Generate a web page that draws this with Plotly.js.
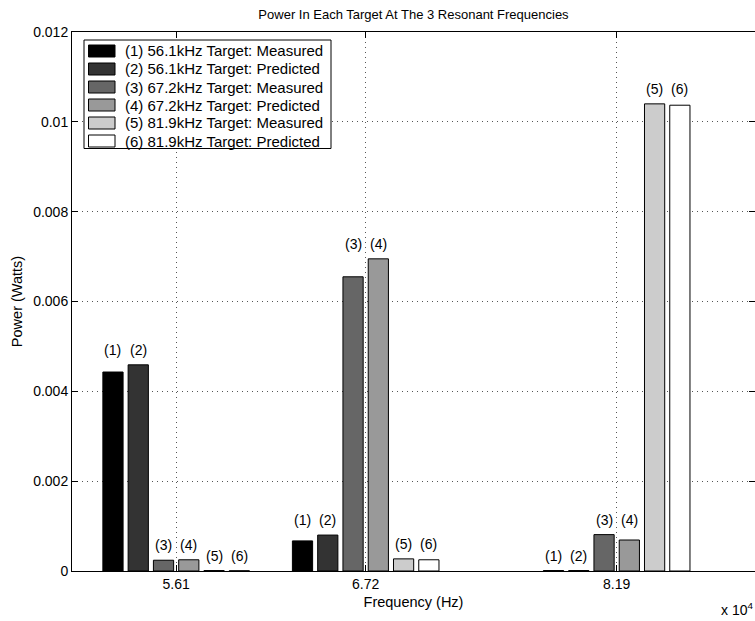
<!DOCTYPE html>
<html>
<head>
<meta charset="utf-8">
<script src="https://cdn.plot.ly/plotly-3.0.1.min.js"></script>
<style>html,body{margin:0;padding:0;background:#fff;}#chart{width:755px;height:621px;}</style>
</head>
<body>
<div id="chart"></div>
<script>
// Resonant frequencies (x 10^4 Hz)
const freqs = [5.61, 6.72, 8.19];
const freqLabels = ['5.61', '6.72', '8.19'];
const seriesNames = [
  '(1) 56.1kHz Target: Measured',
  '(2) 56.1kHz Target: Predicted',
  '(3) 67.2kHz Target: Measured',
  '(4) 67.2kHz Target: Predicted',
  '(5) 81.9kHz Target: Measured',
  '(6) 81.9kHz Target: Predicted'
];
const barLabels = ['(1)', '(2)', '(3)', '(4)', '(5)', '(6)'];
// Power (W) per target at each frequency
const s1 = [0.00443, 0.00067, 0.00001];
const s2 = [0.00459, 0.00080, 0.00001];
const s3 = [0.00024, 0.00655, 0.00081];
const s4 = [0.00025, 0.00695, 0.00069];
const s5 = [0.00001, 0.00027, 0.01040];
const s6 = [0.000005, 0.00025, 0.01037];
const series = [s1, s2, s3, s4, s5, s6];
const colors = ['#000000', '#333333', '#666666', '#999999', '#cccccc', '#ffffff'];

const FONT = "'Liberation Sans', Arial, Helvetica, sans-serif";

const traces = series.map((s, i) => ({
  type: 'bar',
  x: freqs,
  y: s,
  name: seriesNames[i],
  marker: {color: colors[i], line: {color: '#000', width: 1}},
  showlegend: false,
  hoverinfo: 'x+y+name'
}));

// group geometry follows the library's grouping: slot = minDiff*(1-bargap)/n
const bargap = 0.2, bargroupgap = 0.2;
let minDiff = Infinity;
for (let k = 1; k < freqs.length; k++) minDiff = Math.min(minDiff, freqs[k] - freqs[k-1]);
const slot = minDiff * (1 - bargap) / series.length;

const annotations = [];
for (let g = 0; g < freqs.length; g++) {
  for (let i = 0; i < series.length; i++) {
    const pair = Math.floor(i / 2) * 2;
    const ytop = Math.max(series[pair][g], series[pair + 1][g]);
    annotations.push({
      x: freqs[g] + (i - (series.length - 1) / 2) * slot,
      y: ytop, xref: 'x', yref: 'y',
      text: barLabels[i], showarrow: false,
      yanchor: 'bottom', yshift: 5,
      font: {family: FONT, size: 14, color: '#000'}
    });
  }
}
annotations.push({
  x: 1, y: 0, xref: 'paper', yref: 'paper',
  xanchor: 'right', yanchor: 'top', yshift: -27,
  text: 'x 10<sup>4</sup>', showarrow: false,
  font: {family: FONT, size: 14, color: '#000'}
});

// Legend box drawn as shapes + text (MATLAB-style legend)
const M = {l: 72, r: 0, t: 32, b: 50};
const W = 755, H = 621;
const pw = W - M.l - M.r, ph = H - M.t - M.b;
const px = v => (v - M.l) / pw;
const py = v => (H - M.b - v) / ph;
const shapes = [];
shapes.push({type: 'rect', xref: 'paper', yref: 'paper', layer: 'above',
  x0: px(84), x1: px(331), y0: py(40), y1: py(148.5),
  fillcolor: '#fff', line: {color: '#000', width: 1}});
const rowTop = 51, rowStep = 18;
seriesNames.forEach((nm, i) => {
  const cy = rowTop + i * rowStep;
  shapes.push({type: 'rect', xref: 'paper', yref: 'paper', layer: 'above',
    x0: px(88.5), x1: px(115), y0: py(cy - 6), y1: py(cy + 6),
    fillcolor: colors[i], line: {color: '#000', width: 1}});
  annotations.push({x: px(123), y: py(cy), xref: 'paper', yref: 'paper',
    xanchor: 'left', yanchor: 'middle', showarrow: false, text: nm,
    font: {family: FONT, size: 15, color: '#000'}});
});

const layout = {
  width: W, height: H,
  margin: {l: M.l, r: M.r, t: M.t, b: M.b, pad: 0},
  paper_bgcolor: '#fff', plot_bgcolor: '#fff',
  font: {family: FONT, size: 14, color: '#000'},
  title: {text: 'Power In Each Target At The 3 Resonant Frequencies',
          x: (413.5 / W), xanchor: 'center', y: 1 - 14/H, yanchor: 'middle',
          font: {family: FONT, size: 13, color: '#000'}},
  barmode: 'group', bargap: bargap, bargroupgap: bargroupgap,
  showlegend: false,
  xaxis: {
    range: [5, 9], tickvals: freqs, ticktext: freqLabels,
    ticks: 'inside', ticklen: 6, tickcolor: '#000',
    showline: true, linecolor: '#000', linewidth: 1, mirror: 'ticks',
    showgrid: true, gridcolor: '#555', griddash: '1px,4px', gridwidth: 1,
    zeroline: false,
    tickfont: {family: FONT, size: 14, color: '#000'},
    title: {text: 'Frequency (Hz)', standoff: 6, font: {family: FONT, size: 14.5, color: '#000'}}
  },
  yaxis: {
    range: [0, 0.012], dtick: 0.002, tick0: 0,
    ticks: 'inside', ticklen: 6, tickcolor: '#000',
    showline: true, linecolor: '#000', linewidth: 1, mirror: 'ticks',
    showgrid: true, gridcolor: '#555', griddash: '1px,4px', gridwidth: 1,
    zeroline: false,
    tickfont: {family: FONT, size: 14, color: '#000'},
    title: {text: 'Power (Watts)', standoff: 7, font: {family: FONT, size: 14.5, color: '#000'}}
  },
  shapes: shapes,
  annotations: annotations
};

Plotly.newPlot('chart', traces, layout, {displayModeBar: false, staticPlot: true});
</script>
</body>
</html>
